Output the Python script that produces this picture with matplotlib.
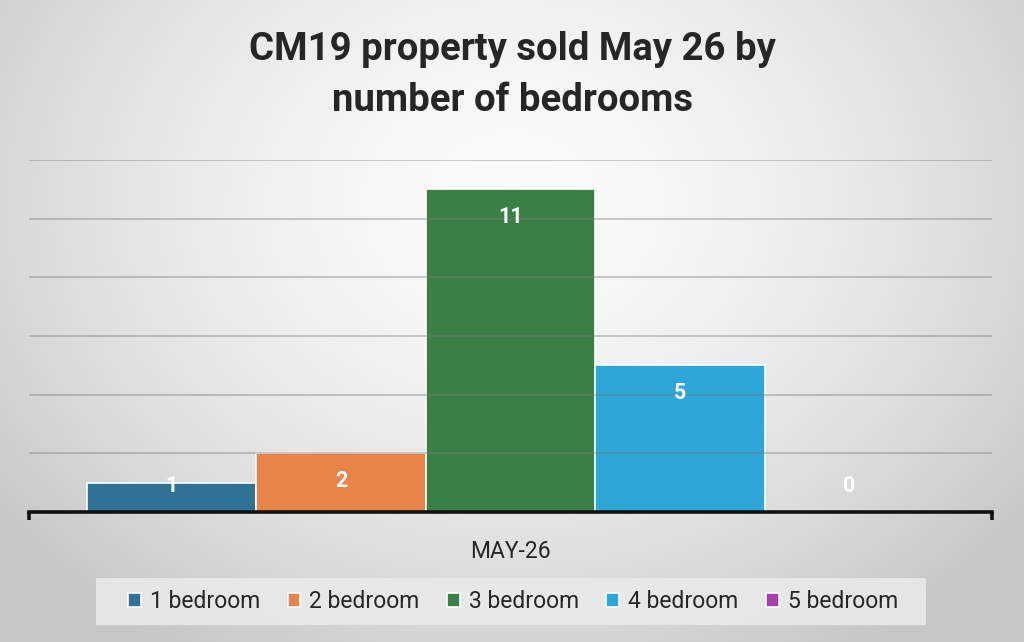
import numpy as np
import matplotlib.pyplot as plt
from matplotlib.patches import Rectangle

categories = ['MAY-26']
series = ['1 bedroom', '2 bedroom', '3 bedroom', '4 bedroom', '5 bedroom']
values = [1, 2, 11, 5, 0]
colors = ['#2E7396', '#E8834A', '#3A7F45', '#2DA6D8', '#A53FAA']
title = 'CM19 property sold May 26 by\nnumber of bedrooms'

plt.rcParams['font.family'] = ['Roboto', 'DejaVu Sans']

fig = plt.figure(figsize=(10.24, 6.42), dpi=100)

# radial grey background
bg = fig.add_axes([0, 0, 1, 1], zorder=-10)
yy, xx = np.mgrid[0:642, 0:1024]
r = np.sqrt(((xx - 512) / 640.0) ** 2 + ((yy - 200) / 520.0) ** 2)
shade = np.clip(0.985 - 0.2 * r ** 1.6, 0.78, 1)
bg.imshow(np.dstack([shade] * 3), aspect='auto', extent=[0, 1, 0, 1])
bg.axis('off')
# legend panel
bg.add_patch(Rectangle((96 / 1024, 1 - 625 / 642), 830 / 1024, 47 / 642,
                       transform=bg.transAxes, facecolor='#ebebeb',
                       alpha=0.85, edgecolor='none'))

ax = fig.add_axes([29 / 1024, 1 - 512 / 642, 963 / 1024, 352 / 642])
ax.patch.set_alpha(0)

n = len(series)
group = 0.88
w = group / n
x0 = np.arange(len(categories))
for i, (name, v, c) in enumerate(zip(series, values, colors)):
    xpos = x0 - group / 2 + w * (i + 0.5)
    ax.bar(xpos, v, width=w, color=c, edgecolor='white', linewidth=1.2,
           label=name, zorder=1)
    ly = max(v - 0.95, 0.9)
    ax.text(xpos[0], ly, str(v), ha='center', va='center', color='white',
            fontsize=15.5, fontweight='bold', zorder=5)

ax.set_xlim(-0.5, 0.5)
ax.set_ylim(0, 12)
ax.set_yticks(range(0, 13, 2))
ax.yaxis.grid(True, color='#7a7a7a', alpha=0.5, linewidth=1.1, zorder=3)
ax.set_axisbelow(False)
ax.tick_params(axis='y', left=False, labelleft=False)
for s in ['top', 'right', 'left']:
    ax.spines[s].set_visible(False)
ax.spines['bottom'].set_linewidth(2.6)
ax.spines['bottom'].set_color('#111111')
ax.spines['bottom'].set_zorder(6)

ax.set_xticks(x0)
ax.set_xticklabels(categories, fontsize=16.5, color='#262626')
ax.set_xticks([-0.5, 0.5], minor=True)
ax.tick_params(axis='x', which='major', length=0, pad=20)
ax.tick_params(axis='x', which='minor', length=6, width=2.6, color='#111111')

fig.text(0.5, 1 - 75 / 642, title, ha='center', va='center', fontsize=27.5,
         fontweight='bold', color='#262626', linespacing=1.45)

leg = fig.legend(loc='center', bbox_to_anchor=(513 / 1024, 1 - 602 / 642),
                 ncol=n, frameon=False, fontsize=16.5, handlelength=0.55,
                 handleheight=0.55, handletextpad=0.4, columnspacing=1.2,
                 borderpad=0.3, borderaxespad=0)
for t in leg.get_texts():
    t.set_color('#262626')

fig.savefig('out.png', dpi=100)
